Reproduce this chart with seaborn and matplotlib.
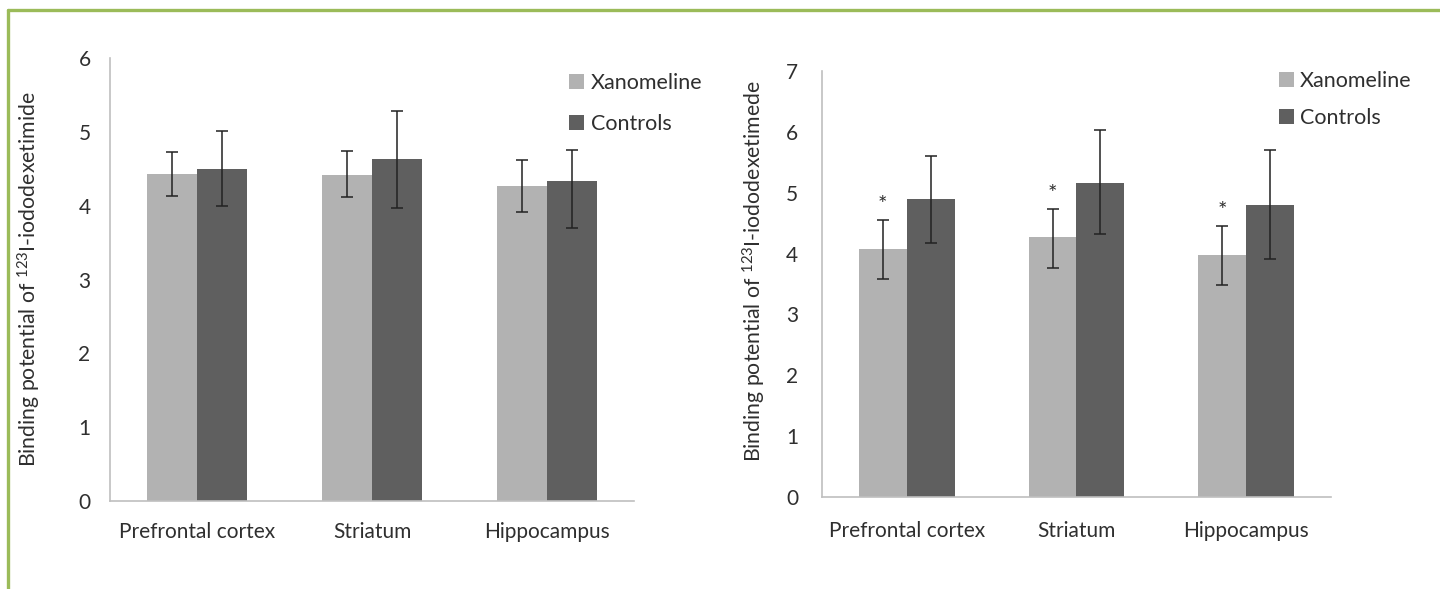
import numpy as np
import pandas as pd
import matplotlib
matplotlib.use("Agg")
import matplotlib.pyplot as plt
from matplotlib.patches import Patch
from matplotlib.lines import Line2D
import seaborn as sns

# ----------------------------
# DATA
# ----------------------------
regions = ["Prefrontal cortex", "Striatum", "Hippocampus"]
groups = ["Xanomeline", "Controls"]

# left panel
left_xan = [4.43, 4.42, 4.26]
left_xan_lo = [0.30, 0.30, 0.34]
left_xan_hi = [0.30, 0.32, 0.36]
left_ctl = [4.50, 4.63, 4.34]
left_ctl_lo = [0.50, 0.66, 0.64]
left_ctl_hi = [0.51, 0.65, 0.42]

# right panel
right_xan = [4.07, 4.27, 3.97]
right_xan_lo = [0.49, 0.50, 0.48]
right_xan_hi = [0.48, 0.47, 0.49]
right_ctl = [4.90, 5.16, 4.79]
right_ctl_lo = [0.73, 0.84, 0.88]
right_ctl_hi = [0.71, 0.87, 0.91]

colors = {"Xanomeline": "#b2b2b2", "Controls": "#5f5f5f"}
axis_grey = "#bfbfbf"
text_col = "#2f2f2f"

sns.set_style("white")
plt.rcParams["font.family"] = ["Lato", "DejaVu Sans"]
plt.rcParams["mathtext.default"] = "regular"


def make_df(xan, ctl):
    return pd.DataFrame({
        "region": regions * 2,
        "group": ["Xanomeline"] * 3 + ["Controls"] * 3,
        "value": list(xan) + list(ctl),
    })


def draw_panel(ax, xan, ctl, errs, ymax, ylabel, width, stars=False):
    df = make_df(xan, ctl)
    sns.barplot(data=df, x="region", y="value", hue="group", order=regions,
                hue_order=groups, palette=colors, errorbar=None, width=width,
                saturation=1, linewidth=0, ax=ax)
    for i, (cont, (lo, hi)) in enumerate(zip(ax.containers, errs)):
        xs = [b.get_x() + b.get_width() / 2 for b in cont]
        ys = [b.get_height() for b in cont]
        ax.errorbar(xs, ys, yerr=[lo, hi], fmt="none", ecolor="#222222",
                    elinewidth=1.1, capsize=4, capthick=1.1, zorder=5)
        if stars and i == 0:
            for x, y, h in zip(xs, ys, hi):
                ax.text(x, y + h + 0.08, "*", ha="center", va="bottom",
                        fontsize=16, color=text_col)
    ax.set_ylim(0, ymax)
    ax.set_xlim(-0.5, 2.5)
    ax.set_yticks(range(0, ymax + 1))
    ax.set_xlabel("")
    ax.set_ylabel(ylabel, fontsize=15.3, color=text_col)
    sns.despine(ax=ax)
    for s in ["left", "bottom"]:
        ax.spines[s].set_color(axis_grey)
        ax.spines[s].set_linewidth(1.2)
    ax.tick_params(axis="both", labelsize=15, colors=text_col)
    ax.legend_.remove()
    handles = [Patch(facecolor=colors[g], edgecolor="none", label=g) for g in groups]
    return handles


fig = plt.figure(figsize=(14.4, 5.89), dpi=100)
ax1 = fig.add_axes([0.0764, 0.1494, 0.3639, 0.7521])
ax2 = fig.add_axes([0.5708, 0.1562, 0.3535, 0.7233])

h = draw_panel(ax1, left_xan, left_ctl,
               [(left_xan_lo, left_xan_hi), (left_ctl_lo, left_ctl_hi)],
               6, "Binding potential of $^{123}$I-iododexetimide", 0.573)
ax1.tick_params(axis="y", length=5, width=1, color=axis_grey, pad=9)
ax1.tick_params(axis="x", which="major", length=0, pad=15)
ax1.set_xticks([-0.5, 0.5, 1.5], minor=True)
ax1.tick_params(axis="x", which="minor", length=8, width=1, color=axis_grey)
ax1.yaxis.set_label_coords(-0.127, 0.5)
ax1.legend(handles=h, loc="upper left", bbox_to_anchor=(0.86, 0.985),
           frameon=False, fontsize=15.5, labelspacing=0.95, handlelength=0.7,
           handleheight=0.7, handletextpad=0.3, labelcolor=text_col,
           borderaxespad=0)

h = draw_panel(ax2, right_xan, right_ctl,
               [(right_xan_lo, right_xan_hi), (right_ctl_lo, right_ctl_hi)],
               7, "Binding potential of $^{123}$I-iododexetimede", 0.565,
               stars=True)
ax2.tick_params(axis="y", length=0, pad=17)
ax2.tick_params(axis="x", length=0, pad=17)
ax2.yaxis.set_label_coords(-0.106, 0.53)
ax2.legend(handles=h, loc="upper left", bbox_to_anchor=(0.88, 1.02),
           frameon=False, fontsize=15.5, labelspacing=0.8, handlelength=0.7,
           handleheight=0.7, handletextpad=0.3, labelcolor=text_col,
           borderaxespad=0)

# green frame (top and left edges visible)
fx, fy = 8 / 1440, 1 - 10 / 589
fig.add_artist(Line2D([fx, 1.02], [fy, fy], color="#9bbb59", linewidth=2.4,
                      transform=fig.transFigure))
fig.add_artist(Line2D([fx, fx], [-0.02, fy], color="#9bbb59", linewidth=2.4,
                      transform=fig.transFigure))

fig.savefig("out.png", dpi=100)
